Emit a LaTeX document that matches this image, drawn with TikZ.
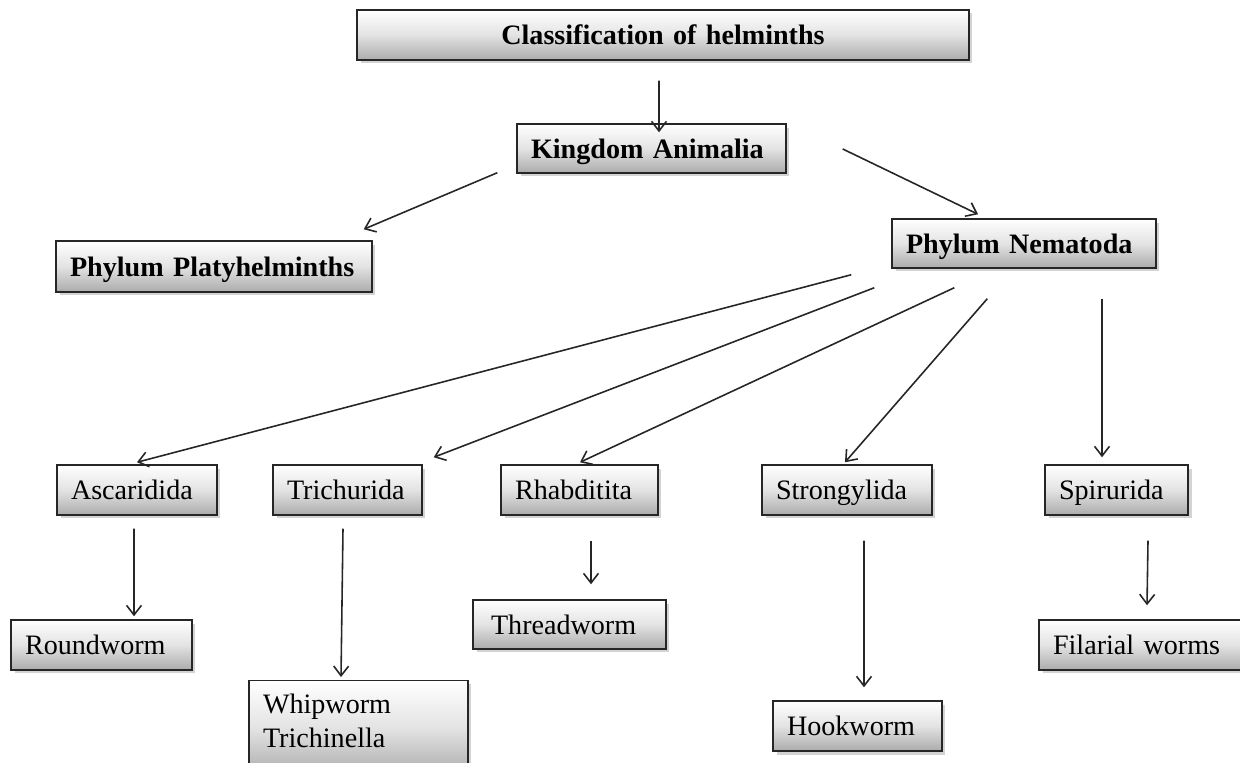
\documentclass[tikz,border=0pt]{standalone}
\usepackage{fontspec}
\setmainfont{Liberation Serif}
\usetikzlibrary{arrows.meta,shadows}
\begin{document}
\begin{tikzpicture}[x=0.02cm,y=-0.02cm,
    >={Straight Barb[length=5.5pt,width=8.5pt]},
    box/.style={draw=black!85,line width=0.85pt,
      top color=white,bottom color=black!33,middle color=black!11,
      drop shadow={shadow xshift=0.07cm,shadow yshift=-0.07cm,opacity=0.35},
      font=\fontsize{16}{19}\selectfont,align=left,
      text height=12pt,text depth=0.7pt,
      inner xsep=0.28cm,minimum height=1cm,text width=#1},
    link/.style={->,draw=black!85,line width=0.9pt}]
    \useasboundingbox (0,0) rectangle (1240,763);
    % top of the tree
    \node[box=11.68cm,align=center,font=\fontsize{16}{19}\selectfont\bfseries]
      (tit) at (663,35) {Classification of helminths};
    \node[box=4.82cm,minimum height=0.98cm,font=\fontsize{16}{19}\selectfont\bfseries]
      (kin) at (651.5,148.5) {Kingdom Animalia};
    \node[box=5.76cm,minimum height=1.02cm,font=\fontsize{16}{19}\selectfont\bfseries]
      (pla) at (214,266.5) {Phylum Platyhelminths};
    \node[box=4.72cm,minimum height=0.98cm,font=\fontsize{16}{19}\selectfont\bfseries]
      (nem) at (1024,243.5) {Phylum Nematoda};
    % orders
    \node[box=2.64cm] (asc) at (137,490) {Ascaridida};
    \node[box=2.42cm] (tri) at (347.5,490) {Trichurida};
    \node[box=2.58cm] (rha) at (579.5,490) {Rhabditita};
    \node[box=2.84cm] (str) at (847,490) {Strongylida};
    \node[box=2.30cm] (spi) at (1116.5,490) {Spirurida};
    % worms
    \node[box=3.06cm] (rou) at (101.5,645) {Roundworm};
    \node[box=3.82cm,anchor=north,inner ysep=0.24cm,text depth=1cm]
      (whi) at (358.5,680) {Whipworm\\Trichinella};
    \node[box=3.14cm,minimum height=0.98cm,inner xsep=0.36cm] (thr) at (569.5,624.5) {Threadworm};
    \node[box=2.82cm] (hoo) at (857.5,726) {Hookworm};
    \node[box=3.58cm] (fil) at (1142.5,645) {Filarial worms};

    \draw[link] ([shift={(-4,20)}]tit.south) -- ([shift={(7.5,9)}]kin.north);
    \draw[link] ([shift={(-19,-1)}]kin.south west) -- ([shift={(-9,-11)}]pla.north east);
    \draw[link] ([shift={(56,0.5)}]kin.east) -- ([shift={(-46,-4)}]nem.north);
    \draw[link] ([shift={(-40,6)}]nem.south west) -- ([shift={(0,-2)}]asc.north);
    \draw[link] ([shift={(-17,19)}]nem.south west) -- ([shift={(11,-7)}]tri.north east);
    \draw[link] ([shift={(63,19)}]nem.south west) -- ([shift={(0.5,-2)}]rha.north);
    \draw[link] ([shift={(96,30)}]nem.south west) -- ([shift={(-2,-2)}]str.north);
    \draw[link] ([shift={(78,30)}]nem.south) -- ([shift={(-14.5,-7)}]spi.north);
    \draw[link] ([shift={(-3,13)}]asc.south) -- ([shift={(32.5,-3)}]rou.north);
    \draw[link] ([shift={(-4.5,13)}]tri.south) -- ([shift={(-17.5,-3)}]whi.north);
    \draw[link] ([shift={(11.5,25)}]rha.south) -- ([shift={(21.5,-15)}]thr.north);
    \draw[link] ([shift={(17,25)}]str.south) -- ([shift={(6.5,-13)}]hoo.north);
    \draw[link] ([shift={(31.5,25)}]spi.south) -- ([shift={(4.5,-14)}]fil.north);
\end{tikzpicture}
\end{document}
